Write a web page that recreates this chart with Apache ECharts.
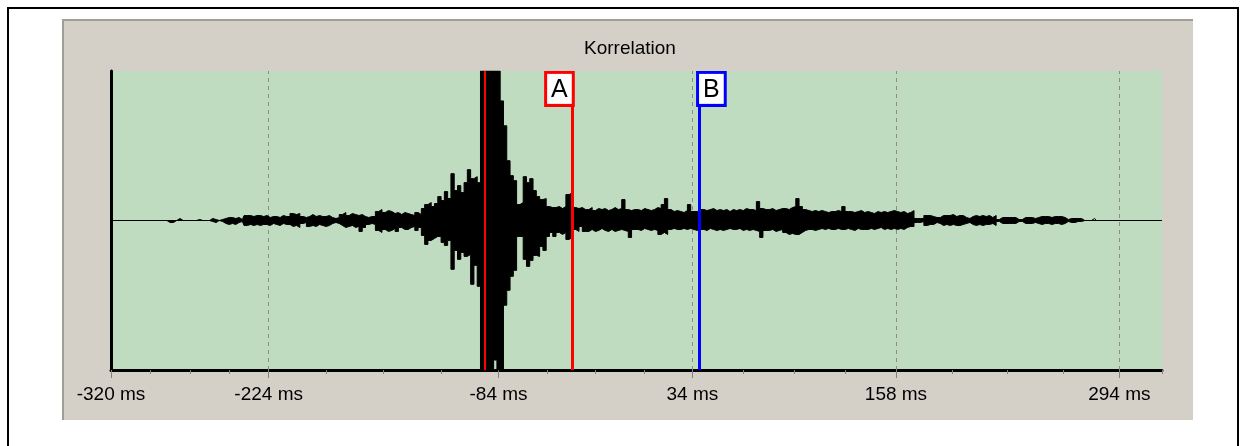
<!DOCTYPE html>
<html><head><meta charset="utf-8">
<script src="https://cdn.jsdelivr.net/npm/echarts@6/dist/echarts.min.js"></script>
<style>
html,body{margin:0;padding:0;background:#fff;width:1245px;height:446px;overflow:hidden;position:relative}
#frame{position:absolute;left:7px;top:7px;width:1228px;height:460px;border:2px solid #000}
#panel{position:absolute;left:62px;top:19px;width:1131px;height:401px;background:#d4d0c8;border-left:2px solid #a19e98;border-top:2px solid #a19e98;box-sizing:border-box}
#chart{position:absolute;left:0;top:0;width:1245px;height:446px}
</style></head>
<body>
<div id="frame"></div><div id="panel"></div><div id="chart"></div>
<script>
// ---- data ----
const chartTitle = 'Korrelation';
const xMin = -320, xMax = 320;
const yMin = -150, yMax = 150;
const majorTicks = [-320, -224, -84, 34, 158, 294];
const minorTicks = [-296, -272, -248, -189, -154, -119, -54.5, -25, 4.5, 65, 96, 127, 192, 226, 260, 320];
const gridLineValues = [-224, -84, 34, 158, 294];
const sampleStart = -290;   // ms
const sampleStep = 2;       // ms
const upper = [
  0,0,0,0,0,  0,2,0,0,0,  0,0,1,0,0,  0,2,1,0,1,  2,3,3,2,3,
  1,5,5,4,5,  5,4,5,3,4,  4,3,5,4,4,  7,6,7,4,3,  4,6,4,5,4,
  4,5,3,2,3,  6,8,5,7,6,  5,6,4,3,4,  4,9,11,8,10,  9,7,8,6,8,
  7,6,5,8,6,  12,16,18,14,17,  24,20,29,22,47,  30,35,28,38,51,  42,44,38,150,150,
  150,150,150,150,120,  95,60,45,40,16,  18,44,38,42,30,  24,21,22,14,13,  13,14,12,14,26,
  28,13,12,13,11,  11,13,10,12,11,  12,10,11,13,11,  12,21,11,10,11,  11,10,12,11,10,
  11,13,12,16,22,  11,9,10,9,8,  10,16,9,9,11,  11,10,11,12,10,  11,10,11,9,11,
  10,11,10,12,11,  11,10,19,12,11,  11,12,10,11,12,  12,11,13,14,22,  14,11,10,9,10,
  9,10,9,8,9,  9,10,9,14,9,  9,8,9,10,8,  9,8,7,9,8,  9,8,9,10,9,
  8,9,7,8,10,  2,2,2,5,5,  4,3,3,5,5,  5,6,4,5,5,  3,2,4,5,4,
  5,4,5,3,5,  1,3,3,3,3,  3,1,1,3,3,  3,2,3,4,4,  4,3,4,4,4,
  3,1,2,2,2,  2,0,0,0,2,  0
];
const lower = [
  0,0,0,-2,-2,  0,0,0,0,0,  0,0,0,0,0,  0,-1,-2,0,-1,  -3,-4,-3,-4,-2,
  -1,-5,-4,-5,-4,  -5,-4,-4,-5,-3,  -4,-5,-3,-4,-4,  -6,-5,-7,-3,-2,  -6,-5,-6,-4,-5,
  -6,-5,-3,-2,-3,  -5,-7,-6,-5,-7,  -6,-11,-7,-4,-3,  -4,-10,-12,-9,-11,  -10,-8,-11,-7,-9,
  -9,-7,-6,-10,-7,  -15,-24,-20,-18,-16,  -16,-22,-25,-20,-49,  -30,-39,-32,-36,-34,  -64,-45,-66,-150,-150,
  -150,-150,-140,-150,-150,  -85,-70,-56,-50,-16,  -16,-39,-46,-40,-35,  -36,-26,-30,-16,-12,  -16,-12,-14,-12,-19,
  -17,-9,-11,-6,-11,  -11,-9,-11,-10,-8,  -10,-11,-9,-11,-10,  -9,-10,-11,-17,-9,  -9,-10,-8,-9,-10,
  -9,-10,-14,-12,-14,  -9,-8,-9,-9,-8,  -9,-8,-9,-10,-9,  -9,-10,-8,-9,-10,  -9,-10,-9,-8,-9,
  -9,-8,-10,-9,-10,  -9,-10,-11,-17,-10,  -10,-9,-11,-10,-9,  -12,-14,-13,-14,-14,  -12,-10,-9,-9,-10,
  -9,-8,-9,-8,-9,  -9,-8,-9,-9,-8,  -9,-10,-8,-9,-9,  -9,-8,-9,-8,-7,  -9,-8,-9,-8,-9,
  -8,-9,-7,-6,-6,  -2,-2,-1,-5,-4,  -4,-2,-3,-5,-4,  -5,-4,-5,-5,-4,  -3,-2,-4,-5,-4,
  -5,-4,-4,-3,-5,  -1,-3,-3,-3,-3,  -3,-1,-1,-3,-3,  -3,-2,-3,-4,-3,  -3,-4,-3,-3,-4,
  -3,-1,-2,-2,-1,  -1,0,0,0,0,  0
];
const cursorA = -39.4;     // ms
const cursorB = 38.1;      // ms
const cursorRef = -92.2;   // ms
const cursorNames = ['A', 'B'];

// ---- styles ----
const FONT = 'Liberation Sans';
const cursorTop = 117;

const upperData = upper.map((v, i) => [sampleStart + i * sampleStep, v]);
const lowerData = lower.map((v, i) => [sampleStart + i * sampleStep, v]);

function cursorLabel(name, color, align) {
  return {
    show: true, position: 'end', distance: 0, formatter: name,
    color: '#000', fontSize: 25, fontFamily: FONT, lineHeight: 26,
    backgroundColor: '#fff', borderColor: color, borderWidth: 3,
    padding: [3, 4, 1, 4], align: align, verticalAlign: 'bottom'
  };
}

const chart = echarts.init(document.getElementById('chart'), null, {renderer: 'canvas'});
chart.setOption({
  animation: false,
  backgroundColor: 'transparent',
  title: {
    text: chartTitle, left: 579, top: 34,
    textStyle: {fontFamily: FONT, fontSize: 19, fontWeight: 'normal', color: '#000'}
  },
  grid: {left: 111, right: 83, top: 71, bottom: 76, show: true, backgroundColor: '#c0dcc0', borderWidth: 0, containLabel: false},
  xAxis: [{
    type: 'value', min: xMin, max: xMax, position: 'bottom',
    axisLine: {show: true, onZero: false, lineStyle: {color: '#000', width: 3}},
    axisTick: {show: true, customValues: majorTicks, length: 8, lineStyle: {color: '#808080', width: 1}},
    axisLabel: {show: true, customValues: majorTicks, formatter: v => v + ' ms', color: '#000', fontSize: 19, fontFamily: FONT, margin: 15},
    splitLine: {show: false}
  }, {
    type: 'value', min: xMin, max: xMax, position: 'bottom',
    axisLine: {show: false, onZero: false},
    axisTick: {show: true, customValues: minorTicks, length: 4, lineStyle: {color: '#808080', width: 1}},
    axisLabel: {show: false},
    splitLine: {show: false}
  }],
  yAxis: {
    type: 'value', min: yMin, max: yMax,
    axisLine: {show: true, onZero: false, lineStyle: {color: '#000', width: 3}},
    axisTick: {show: false}, axisLabel: {show: false}, splitLine: {show: false}
  },
  series: [{
    name: 'baseline', type: 'line', xAxisIndex: 0, symbol: 'none', silent: true,
    data: [[xMin, 0], [xMax, 0]],
    lineStyle: {color: '#000', width: 1},
    markLine: {
      silent: true, symbol: ['none', 'none'], z: 1,
      label: {show: false},
      lineStyle: {color: '#8a8a8a', width: 1, type: [4, 4]},
      data: gridLineValues.map(v => ({xAxis: v}))
    }
  }, {
    name: 'upper', type: 'line', xAxisIndex: 0, symbol: 'none', step: 'middle', silent: true,
    data: upperData,
    lineStyle: {color: '#000', width: 1, join: 'miter', cap: 'butt'},
    areaStyle: {color: '#000', opacity: 1, origin: 0}
  }, {
    name: 'lower', type: 'line', xAxisIndex: 0, symbol: 'none', step: 'middle', silent: true,
    data: lowerData,
    lineStyle: {color: '#000', width: 1, join: 'miter', cap: 'butt'},
    areaStyle: {color: '#000', opacity: 1, origin: 0},
    markLine: {
      silent: true, symbol: ['none', 'none'], z: 5,
      data: [
        [{coord: [cursorRef, yMin], lineStyle: {color: '#ff0000', width: 2, type: 'solid'}, label: {show: false}},
         {coord: [cursorRef, yMax]}],
        [{coord: [cursorA, yMin], lineStyle: {color: '#ff0000', width: 3, type: 'solid'}, label: cursorLabel(cursorNames[0], '#ff0000', 'right')},
         {coord: [cursorA, cursorTop]}],
        [{coord: [cursorB, yMin], lineStyle: {color: '#0000ff', width: 3, type: 'solid'}, label: cursorLabel(cursorNames[1], '#0000ff', 'left')},
         {coord: [cursorB, cursorTop]}]
      ]
    }
  }]
});
</script>
</body></html>
